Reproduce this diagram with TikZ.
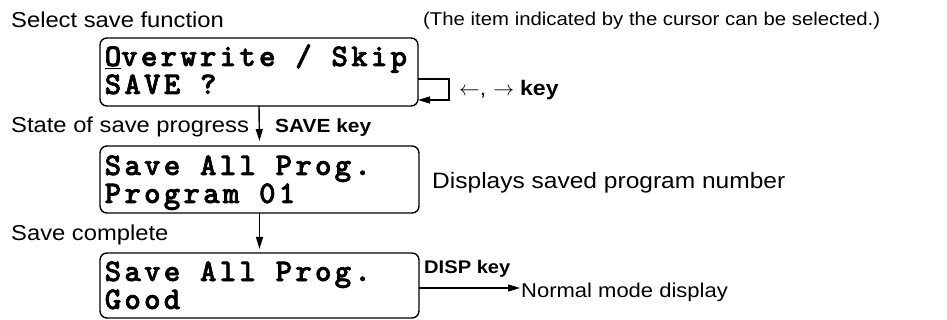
\documentclass[tikz,border=0pt]{standalone}
\usepackage{fontspec}
\setmainfont{Liberation Sans}[FakeStretch=1.1]
\newfontfamily\lcdfam{lmmonolt10-bold}[Extension=.otf, LetterSpace=10, FakeBold=2]
\usetikzlibrary{arrows.meta}
\tikzset{
  dispbox/.style={draw, line width=1.4pt, rounded corners=7pt, inner sep=0pt, outer sep=0pt, anchor=north west},
  lcd/.style={font=\lcdfam\fontsize{31.5}{28}\selectfont, align=left, inner sep=0pt, anchor=base west},
  lbl/.style={font=\fontsize{21.6}{26}\selectfont, inner sep=0pt, anchor=base west},
  smalllbl/.style={font=\fontsize{18.5}{22}\selectfont, inner sep=0pt, anchor=base west},
  keylbl/.style={font=\bfseries\fontsize{19}{23}\selectfont, inner sep=0pt, anchor=base west},
  arr/.style={line width=1.4pt, -{Triangle[length=12pt,width=7pt]}}
}
\begin{document}
\begin{tikzpicture}[x=1pt,y=-1pt]
\useasboundingbox (0,0) rectangle (947,320);
% display boxes
\node[dispbox, minimum width=318pt, minimum height=68pt] (b1) at (100,38) {};
\node[dispbox, minimum width=319pt, minimum height=67pt] (b2) at (100,146) {};
\node[dispbox, minimum width=319pt, minimum height=65pt] (b3) at (100,253) {};
% display texts (base anchor = baseline of the last line)
\node[lcd] (t1) at (104.5,94) {\underline{O}verwrite / Skip\\SAVE ?};
\node[lcd] (t2) at (104.5,203) {Save All Prog.\\Program 01};
\node[lcd] (t3) at (104.5,309) {Save All Prog.\\Good};
% labels
\node[lbl] (sel) at (11,28) {Select save function};
\node[smalllbl] (note) at (423,26) {(The item indicated by the cursor can be selected.)};
\node[lbl] (state) at (11,133) {State of save progress};
\node[keylbl] (savekey) at (275,133) {SAVE key};
\node[lbl, font=\fontsize{22.3}{26}\selectfont] (disp) at (432,189) {Displays saved program number};
\node[lbl] (done) at (11,241) {Save complete};
\node[keylbl, font=\bfseries\fontsize{18.3}{22}\selectfont] (dispkey) at (424,273) {DISP key};
\node[lbl, font=\fontsize{20}{24}\selectfont] (normal) at (521,298) {Normal mode display};
\node[keylbl] (lr) at (459,96) {\fontsize{21}{24}\selectfont$\leftarrow$\mdseries,\hspace{7pt}$\rightarrow$\hspace{6pt}\bfseries key};
% connectors
\draw[arr, shorten >=5pt] (b1.south) -- (b2.north);
\draw[arr, shorten >=4pt] (b2.south) -- (b3.north);
\coordinate (lp1) at (449,79);
\coordinate (lp2) at (449,100);
\draw[arr] (b1.east |- lp1) -- (lp1) -- (lp2) -- (b1.east |- lp2);
\coordinate (dk) at (520,288);
\draw[arr] (b3.east |- dk) -- (dk);
\end{tikzpicture}
\end{document}
